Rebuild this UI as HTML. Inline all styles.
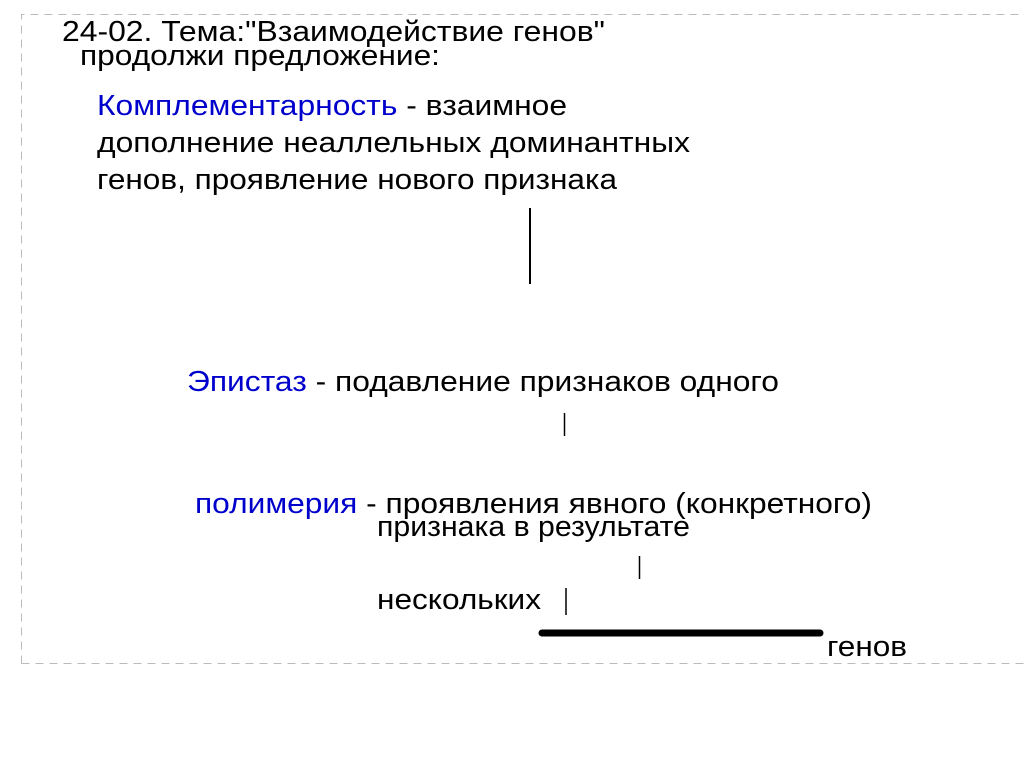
<!DOCTYPE html>
<html><head><meta charset="utf-8"><style>
html,body{margin:0;padding:0;background:#fff;width:1024px;height:768px;overflow:hidden}
text{font-family:"Liberation Sans",sans-serif;font-size:29px;fill:#000}
.b{fill:#0000cc}
</style></head><body>
<svg width="1024" height="768" xmlns="http://www.w3.org/2000/svg">
<path d="M21.5 663.5 V14.5 H1024 M21.5 663.5 H1024" fill="none" stroke="#bbb" stroke-width="1" stroke-dasharray="8,6"/>
<text x="62" y="41" textLength="543" lengthAdjust="spacingAndGlyphs">24-02. Тема:"Взаимодействие генов"</text>
<text x="80" y="65" textLength="360" lengthAdjust="spacingAndGlyphs">продолжи предложение:</text>
<text x="97" y="115" textLength="470" lengthAdjust="spacingAndGlyphs"><tspan class="b">Комплементарность</tspan> - взаимное</text>
<text x="97" y="152" textLength="593" lengthAdjust="spacingAndGlyphs">дополнение неаллельных доминантных</text>
<text x="97" y="189" textLength="520" lengthAdjust="spacingAndGlyphs">генов, проявление нового признака</text>
<line x1="530" y1="208" x2="530" y2="284" stroke="#000" stroke-width="2"/>
<text x="187" y="391" textLength="592" lengthAdjust="spacingAndGlyphs"><tspan class="b">Эпистаз</tspan> - подавление признаков одного</text>
<line x1="564.5" y1="413" x2="564.5" y2="436" stroke="#000" stroke-width="1.5"/>
<text x="195" y="513" textLength="677" lengthAdjust="spacingAndGlyphs"><tspan class="b">полимерия</tspan> - проявления явного (конкретного)</text>
<text x="377" y="536" textLength="313" lengthAdjust="spacingAndGlyphs">признака в результате</text>
<line x1="639.5" y1="556" x2="639.5" y2="579" stroke="#000" stroke-width="1.5"/>
<text x="377" y="609" textLength="164" lengthAdjust="spacingAndGlyphs">нескольких</text>
<line x1="566" y1="588" x2="566" y2="615" stroke="#000" stroke-width="1.5"/>
<line x1="542" y1="633" x2="820" y2="633" stroke="#000" stroke-width="7" stroke-linecap="round"/>
<text x="827" y="656" textLength="80" lengthAdjust="spacingAndGlyphs">генов</text>
</svg>
</body></html>
